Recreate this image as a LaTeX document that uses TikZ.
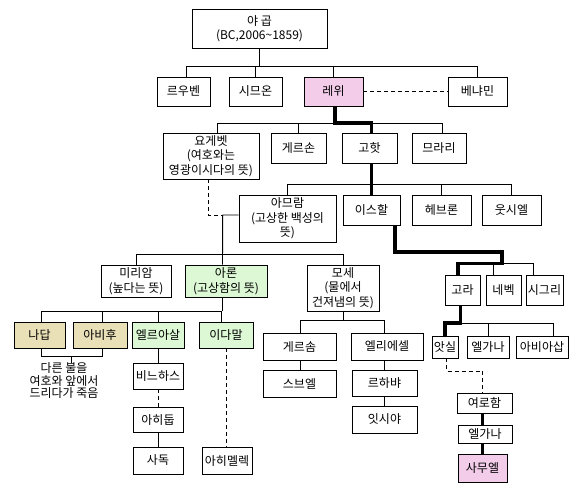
\documentclass[tikz,border=0pt]{standalone}
\usepackage{fontspec}
\setmainfont{Noto Sans CJK KR}
\definecolor{pinkf}{RGB}{242,204,232}
\definecolor{greenf}{RGB}{220,248,212}
\definecolor{tanf}{RGB}{234,224,184}
\newcommand\mybox[7][]{\node[box,#1,minimum width={(#4-#2)*1pt},minimum height={(#5-#3)*1pt}] (#6) at ({(#2+#4)/2},{(#3+#5)/2}) {#7};}
\begin{document}
\begin{tikzpicture}[x=1pt,y=-1pt,
  box/.style={draw,line width=0.9pt,inner sep=0pt,align=center,font=\fontsize{12}{14.5}\selectfont},
  pinkbox/.style={fill=pinkf},
  greenbox/.style={fill=greenf},
  tanbox/.style={fill=tanf},
  ln/.style={line width=0.9pt},
  thk/.style={line width=3.6pt},
  dsh/.style={line width=0.9pt,dash pattern=on 4pt off 3pt}]
\useasboundingbox (0,0) rectangle (583,488);
% nodes
\mybox{192}{9}{327}{48}{jacob}{야 곱\\(BC,2006\textasciitilde1859)}
\mybox{157}{77}{210}{106}{reuben}{르우벤}
\mybox{229}{77}{282}{106}{simeon}{시므온}
\mybox[pinkbox]{304}{77}{363}{106}{levi}{레위}
\mybox{448}{77}{507}{106}{benjamin}{베냐민}
\mybox{163}{133}{259}{179}{jochebed}{요게벳\\(여호와는\\영광이시다의 뜻)}
\mybox{271}{133}{326}{163}{gershon}{게르손}
\mybox{342}{133}{397}{163}{kohath}{고핫}
\mybox{412}{133}{466}{163}{merari}{므라리}
\mybox{239}{195}{336}{242}{amram}{아므람\\(고상한 백성의\\뜻)}
\mybox{343}{195}{400}{225}{izhar}{이스할}
\mybox{412}{195}{471}{225}{hebron}{헤브론}
\mybox{482}{195}{541}{225}{uzziel}{웃시엘}
\mybox{101}{265}{171}{297}{miriam}{미리암\\(높다는 뜻)}
\mybox[greenbox]{185}{265}{267}{297}{aaron}{아론\\(고상함의 뜻)}
\mybox{307}{265}{379}{311}{moses}{모세\\(물에서\\건져냄의 뜻)}
\mybox{445}{275}{480}{305}{korah}{고라}
\mybox{486}{275}{521}{305}{nepheg}{네벡}
\mybox{526}{275}{563}{305}{zichri}{시그리}
\mybox[tanbox]{14}{322}{65}{348}{nadab}{나답}
\mybox[tanbox]{73}{322}{127}{348}{abihu}{아비후}
\mybox[greenbox]{132}{322}{184}{348}{eleazar}{엘르아살}
\mybox[greenbox]{199}{322}{253}{348}{ithamar}{이다말}
\mybox{263}{333}{336}{360}{gershom}{게르솜}
\mybox{351}{333}{423}{360}{eliezer}{엘리에셀}
\mybox{432}{336}{458}{358}{assir}{앗실}
\mybox{467}{336}{509}{358}{elkanahA}{엘가나}
\mybox{516}{336}{568}{358}{abiasaph}{아비아삽}
\mybox{133}{363}{183}{389}{phinehas}{비느하스}
\mybox{263}{370}{336}{397}{shebuel}{스브엘}
\mybox{352}{370}{417}{396}{rehabiah}{르하뱌}
\mybox{133}{407}{183}{432}{ahitub}{아히둡}
\mybox{352}{406}{417}{433}{isshiah}{잇시야}
\mybox{457}{393}{512}{413}{jeroham}{여로함}
\mybox{458}{425}{512}{443}{elkanahB}{엘가나}
\mybox{133}{447}{183}{474}{zadok}{사독}
\mybox{202}{447}{252}{474}{ahimelech}{아히멜렉}
\mybox[pinkbox]{458}{454}{507}{482}{samuel}{사무엘}
\node[inner sep=0pt,align=center,font=\fontsize{12}{12.5}\selectfont] (note) at (64,381) {다른 불을\\여호와 앞에서\\드리다가 죽음};
% bus coordinates
\coordinate (b1) at (0,66);
\coordinate (b2) at (0,123);
\coordinate (b3) at (0,184);
\coordinate (b4) at (0,254);
\coordinate (b5) at (0,263.3);
\coordinate (b6) at (0,323);
\coordinate (b7) at (0,311);
\coordinate (b8) at (0,356);
\coordinate (b9) at (0,320);
\coordinate (d2) at (0,371);
\coordinate (j1) at (222.7,215);
\coordinate (t1) at (501.7,251.7);
\coordinate (m1) at (71.7,356);
% Jacob
\draw[ln] (jacob.south) -- (jacob.south |- b1);
\draw[ln] ([xshift=2.5pt]reuben.north) |- (b1 -| benjamin.north) -- (benjamin.north);
\draw[ln] (simeon.north) -- (simeon.north |- b1);
\draw[ln] (levi.north) -- (levi.north |- b1);
\draw[dsh] (levi.east) -- (benjamin.west);
% Levi
\draw[ln] ([xshift=6pt]jochebed.north) -- ([xshift=6pt]jochebed.north |- b2) -- ([xshift=3.5pt]merari.north |- b2) -- ([xshift=3.5pt]merari.north);
\draw[ln] (gershon.north) -- (gershon.north |- b2);
\draw[thk] ([xshift=1.5pt]levi.south) |- ([xshift=2pt]kohath.north |- b2) -- ([xshift=2pt]kohath.north);
% Kohath
\draw[ln] (amram.north) |- (uzziel.north |- b3) -- (uzziel.north);
\draw[ln] (hebron.north) -- (hebron.north |- b3);
\draw[thk] ([xshift=2pt]kohath.south) -- ([xshift=2pt]kohath.south |- izhar.north);
% Izhar
\draw[ln] ([xshift=-4.5pt]korah.north |- b5) -- ([xshift=-11.5pt]zichri.north |- b5) -- ([xshift=-11.5pt]zichri.north);
\draw[ln] ([xshift=-10.5pt]nepheg.north) -- ([xshift=-10.5pt]nepheg.north |- b5);
\draw[thk] ([xshift=23.5pt]izhar.south) |- (t1) |- ([xshift=-4.5pt]korah.north |- b5) -- ([xshift=-4.5pt]korah.north);
% Korah
\draw[ln] (assir.north |- b6) -- ([xshift=11pt]abiasaph.north |- b6) -- ([xshift=11pt]abiasaph.north);
\draw[ln] (elkanahA.north) -- (elkanahA.north |- b6);
\draw[thk] ([xshift=-2pt]korah.south) |- (assir.north |- b6) -- (assir.north);
\draw[dsh] ([xshift=1.5pt]assir.south) |- (d2 -| samuel.north) -- (jeroham.north -| samuel.north);
\draw[thk] (jeroham.south -| samuel.north) -- (elkanahB.north -| samuel.north);
\draw[thk] (elkanahB.south -| samuel.north) -- (samuel.north);
% Amram
\draw[dsh] ([xshift=-3pt]jochebed.south) |- (j1);
\draw[ln] (amram.west |- j1) -- (j1) -- ([xshift=-3.5pt]aaron.north);
\draw[ln] (miriam.north) |- (moses.north |- b4) -- (moses.north);
% Aaron
\draw[ln] ([xshift=-4pt]aaron.south) -- ([xshift=-4pt]aaron.south |- b7);
\draw[ln] ([xshift=2pt]nadab.north) |- ([xshift=-5pt]ithamar.north |- b7) -- ([xshift=-5pt]ithamar.north);
\draw[ln] ([xshift=2pt]abihu.north) -- ([xshift=2pt]abihu.north |- b7);
\draw[ln] (eleazar.north) -- (eleazar.north |- b7);
\draw[ln] ([xshift=2pt]nadab.south) |- ([xshift=2pt]abihu.south |- b8) -- ([xshift=2pt]abihu.south);
\draw[ln] (m1) -- (m1 |- note.north);
\draw[ln] (eleazar.south -| phinehas.north) -- (phinehas.north);
\draw[dsh] (phinehas.south) -- (ahitub.north);
\draw[ln] (ahitub.south) -- (zadok.north);
\draw[dsh] (ithamar.south) -- (ithamar.south |- ahimelech.north);
% Moses
\draw[ln] (moses.south) -- (moses.south |- b9);
\draw[ln] ([xshift=1pt]gershom.north) |- (rehabiah.north |- b9) -- (eliezer.north -| rehabiah.north);
\draw[ln] ([xshift=1pt]gershom.south) -- ([xshift=1pt]shebuel.north);
\draw[ln] (eliezer.south -| rehabiah.north) -- (rehabiah.north);
\draw[ln] (rehabiah.south) -- (isshiah.north);
\end{tikzpicture}
\end{document}
